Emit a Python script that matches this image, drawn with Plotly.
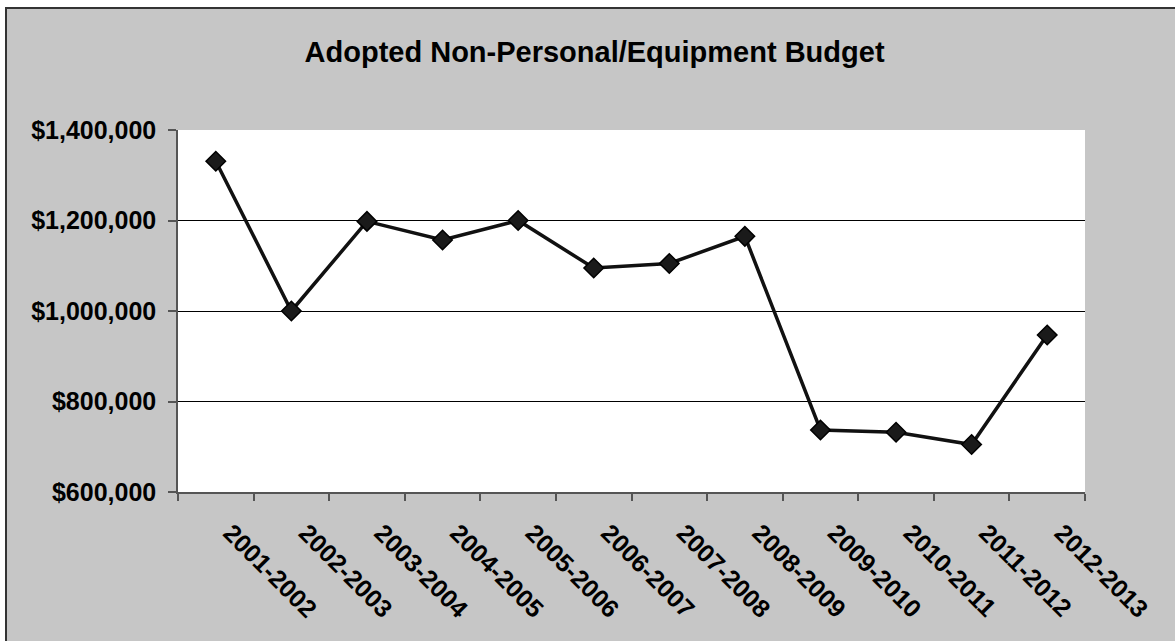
import plotly.graph_objects as go

categories = ["2001-2002", "2002-2003", "2003-2004", "2004-2005", "2005-2006", "2006-2007",
              "2007-2008", "2008-2009", "2009-2010", "2010-2011", "2011-2012", "2012-2013"]
budget = [1331000, 1000000, 1198000, 1157000, 1200000, 1095000,
          1105000, 1165000, 737000, 732000, 705000, 947000]
y_ticks = [600000, 800000, 1000000, 1200000, 1400000]
y_tick_text = ["$600,000", "$800,000", "$1,000,000", "$1,200,000", "$1,400,000"]
grid_vals = [800000, 1000000, 1200000]
title_text = "Adopted Non-Personal/Equipment Budget"

W, H = 1175, 641
L, R, T, B = 178, 90, 130, 149
pw, ph = W - L - R, H - T - B

def px_x(p):
    return (p - L) / pw

def px_y(p):
    return (H - B - p) / ph

FONT = "Liberation Sans, Arial, sans-serif"
BG = "#c6c6c6"
NBSP = "\u00a0"

fig = go.Figure()
fig.add_trace(go.Scatter(
    x=categories, y=budget, mode="lines+markers",
    line=dict(color="#111111", width=3.5),
    marker=dict(symbol="diamond", size=15, color="#1a1a1a",
                line=dict(color="#000000", width=1.5)),
    showlegend=False, cliponaxis=False,
))
# invisible trace to activate the gridline axis
fig.add_trace(go.Scatter(x=categories, y=budget, yaxis="y2", mode="none",
                         showlegend=False, hoverinfo="skip"))

fig.update_layout(
    width=W, height=H,
    margin=dict(l=L, r=R, t=T, b=B, pad=0),
    paper_bgcolor=BG, plot_bgcolor="white",
    title=dict(text="<b>" + title_text + "</b>", x=0.506, xanchor="center",
               y=1 - 52 / H, yanchor="middle", yref="container",
               font=dict(family=FONT, size=29, color="#000000")),
    xaxis=dict(type="category", categoryorder="array", categoryarray=categories,
               range=[-0.5, len(categories) - 0.5],
               tickmode="array", tickvals=categories,
               ticktext=[NBSP * 3 + c for c in categories],
               showgrid=False, showline=True, linecolor="#555555", linewidth=1.5,
               ticks="outside", ticklen=7, tickcolor="#555555", tickwidth=1.5,
               tickson="boundaries", tickangle=45, ticklabelstandoff=0,
               tickfont=dict(family=FONT, size=25, color="#000000", weight="bold"),
               zeroline=False, mirror=False),
    yaxis=dict(range=[600000, 1400000], tickmode="array", tickvals=y_ticks,
               ticktext=y_tick_text,
               showgrid=False, showline=True, linecolor="#555555",
               linewidth=1.5, ticks="outside", ticklen=8, tickcolor="#555555",
               tickwidth=1.5, ticklabelstandoff=7,
               tickfont=dict(family=FONT, size=25, color="#000000", weight="bold"),
               zeroline=False),
    yaxis2=dict(range=[600000, 1400000], overlaying="y", tickvals=grid_vals,
                showgrid=True, gridcolor="#000000", gridwidth=1.2,
                showticklabels=False, ticks="", showline=False, zeroline=False,
                side="left", layer="below traces"),
    shapes=[
        # white margin outside the chart border
        dict(type="rect", xref="paper", yref="paper", x0=px_x(-5), x1=px_x(W + 5),
             y0=px_y(8), y1=px_y(-5), fillcolor="white", line=dict(width=0), layer="below"),
        dict(type="rect", xref="paper", yref="paper", x0=px_x(-5), x1=px_x(6),
             y0=px_y(H + 5), y1=px_y(-5), fillcolor="white", line=dict(width=0), layer="below"),
        # chart border
        dict(type="rect", xref="paper", yref="paper", x0=px_x(6), x1=px_x(W + 10),
             y0=px_y(H + 10), y1=px_y(8), fillcolor="rgba(0,0,0,0)",
             line=dict(color="#333333", width=2), layer="above"),
    ],
)

fig.write_html("out.html")
